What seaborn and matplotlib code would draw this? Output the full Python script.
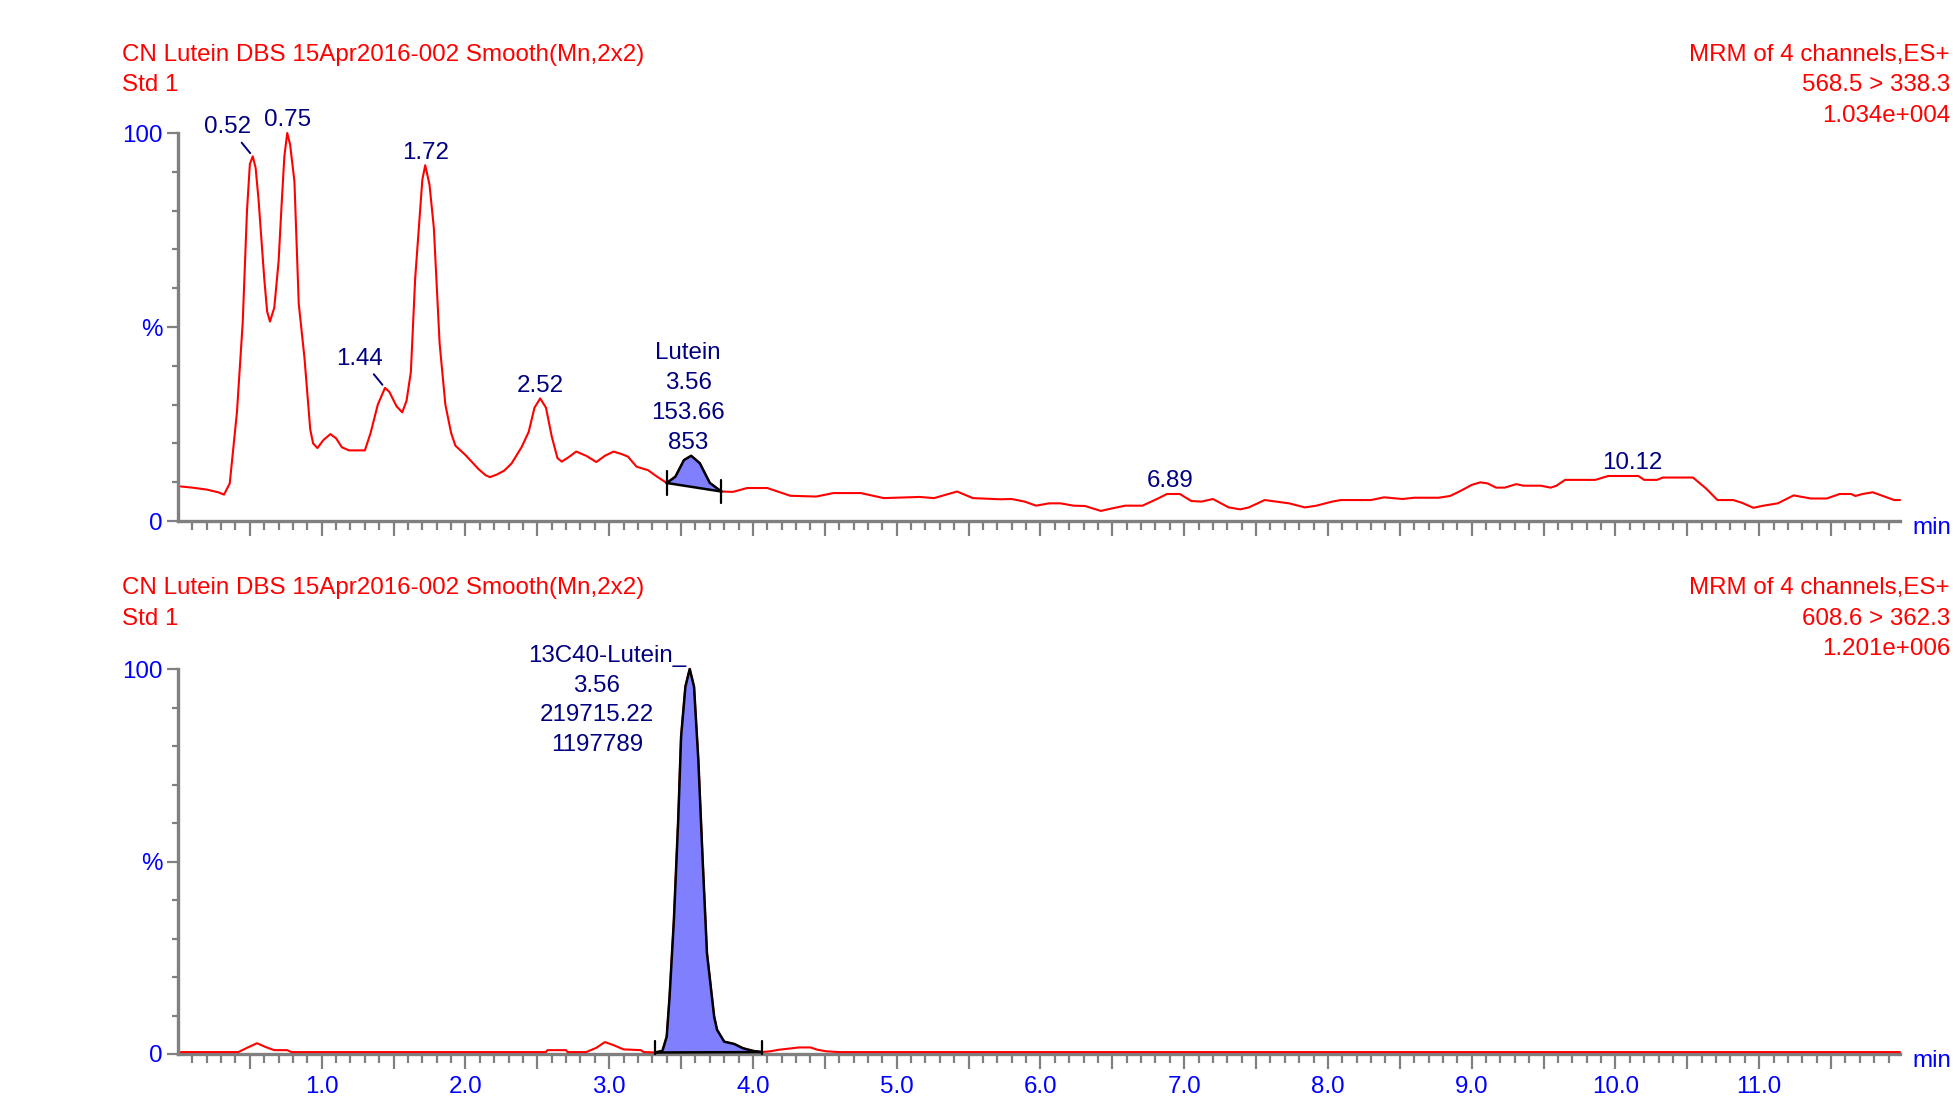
import numpy as np
import matplotlib
matplotlib.use("Agg")
import matplotlib.pyplot as plt
from matplotlib.ticker import FixedLocator, FixedFormatter
import seaborn as sns

# top channel 568.5 > 338.3 (time in min, intensity in %)
top_t = [0.02, 0.10, 0.20, 0.28, 0.32, 0.36, 0.41, 0.45, 0.48, 0.50, 0.52, 0.54, 0.56, 0.60, 0.62,
         0.64, 0.67, 0.70, 0.72, 0.74, 0.76, 0.78, 0.81, 0.84, 0.88, 0.92, 0.94, 0.97, 1.01,
         1.06, 1.10, 1.14, 1.19, 1.30, 1.34, 1.39, 1.44, 1.47, 1.52, 1.56, 1.59, 1.62, 1.65,
         1.70, 1.72, 1.75, 1.78, 1.82, 1.86, 1.90, 1.93, 2.00, 2.09, 2.14, 2.17, 2.22, 2.27,
         2.32, 2.39, 2.44, 2.48, 2.52, 2.56, 2.60, 2.64, 2.67, 2.72, 2.77, 2.84, 2.91, 2.97,
         3.03, 3.09, 3.13, 3.19, 3.27, 3.33, 3.40, 3.46, 3.52, 3.57, 3.63, 3.70, 3.78, 3.86,
         3.96, 4.10, 4.26, 4.44, 4.56, 4.75, 4.91, 5.16, 5.26, 5.42, 5.53, 5.72, 5.80, 5.89,
         5.97, 6.06, 6.14, 6.23, 6.31, 6.42, 6.50, 6.59, 6.71, 6.82, 6.88, 6.97, 7.05, 7.12,
         7.20, 7.31, 7.39, 7.45, 7.56, 7.64, 7.73, 7.84, 7.92, 8.03, 8.09, 8.30, 8.39, 8.52,
         8.60, 8.77, 8.85, 8.92, 9.00, 9.06, 9.11, 9.17, 9.23, 9.31, 9.36, 9.48, 9.55, 9.59,
         9.65, 9.86, 9.95, 10.16, 10.20, 10.29, 10.33, 10.54, 10.63, 10.71, 10.82, 10.88,
         10.96, 11.03, 11.13, 11.24, 11.30, 11.36, 11.47, 11.56, 11.64, 11.67, 11.72, 11.79,
         11.85, 11.94, 11.98]
top_y = [8.9, 8.6, 8.1, 7.4, 6.8, 9.7, 28, 51, 80, 92, 94, 91, 83, 62.5, 54,
         51.4, 55, 67, 81, 94, 100, 97, 87.5, 56, 42, 23.6, 20, 18.8, 20.8,
         22.4, 21.3, 19, 18.2, 18.2, 22.7, 30, 34.3, 33.3, 29.6, 28, 31, 38.4, 62.5,
         88, 91.7, 86.6, 75.5, 45.8, 30, 22.7, 19.4, 17, 13.4, 11.8, 11.3, 12, 13,
         14.8, 19, 23, 29.2, 31.6, 29.2, 21.8, 16.2, 15.3, 16.5, 17.9, 16.8, 15.2, 16.8,
         17.9, 17.2, 16.6, 14, 13.1, 11.5, 9.8, 11.4, 15.7, 16.8, 14.9, 9.8, 7.6, 7.5,
         8.5, 8.5, 6.5, 6.3, 7.2, 7.2, 5.9, 6.2, 5.9, 7.6, 5.9, 5.6, 5.67, 5.0,
         3.95, 4.55, 4.55, 3.95, 3.87, 2.6, 3.26, 3.95, 3.95, 5.84, 6.96, 6.96, 5.15, 5.0,
         5.67, 3.5, 3.0, 3.5, 5.4, 5.0, 4.55, 3.5, 3.95, 5.0, 5.4, 5.4, 6.1, 5.67,
         6.0, 6.0, 6.45, 7.7, 9.3, 9.96, 9.7, 8.6, 8.6, 9.5, 9.1, 9.1, 8.6, 9.1,
         10.6, 10.6, 11.6, 11.6, 10.6, 10.6, 11.2, 11.2, 8.4, 5.4, 5.4, 4.7,
         3.4, 3.95, 4.55, 6.6, 6.2, 5.8, 5.8, 6.96, 6.96, 6.45, 6.96, 7.4,
         6.6, 5.4, 5.4]

# bottom channel 608.6 > 362.3
bot_t = [0.02, 0.42, 0.48, 0.55, 0.61, 0.67, 0.76, 0.79, 2.56, 2.57, 2.70, 2.71, 2.84, 2.91,
         2.97, 3.03, 3.10, 3.22, 3.24, 3.32, 3.37, 3.40, 3.42, 3.45, 3.48, 3.50, 3.53, 3.56,
         3.59, 3.62, 3.65, 3.68, 3.73, 3.75, 3.80, 3.87, 3.93, 4.00, 4.06, 4.12, 4.18, 4.32,
         4.40, 4.45, 4.51, 4.60, 11.98]
bot_y = [0.5, 0.5, 1.6, 2.8, 1.8, 1.0, 1.0, 0.5, 0.5, 1.0, 1.0, 0.5, 0.5, 1.6,
         3.1, 2.3, 1.2, 1.0, 0.5, 0.4, 0.8, 4.5, 14.9, 34.8, 60.8, 82.4, 95.4, 100,
         95.4, 76.3, 50.4, 26.2, 9.7, 6.3, 3.2, 2.6, 1.5, 0.8, 0.5, 0.7, 1.1, 1.7,
         1.7, 1.1, 0.7, 0.5, 0.5]

# labelled peaks (apex time, apex height, label)
top_peak_t = [0.52, 0.76, 1.44, 1.72, 2.52, 6.90, 10.12]
top_peak_h = [94, 100, 34.3, 91.7, 31.6, 6.96, 11.6]
top_peak_lab = ["0.52", "0.75", "1.44", "1.72", "2.52", "6.89", "10.12"]

# integrated peaks
top_int = (3.40, 3.78)
top_int_apex = (3.57, 16.8)
top_int_lab = ["Lutein", "3.56", "153.66", "853"]
bot_int = (3.32, 4.06)
bot_int_apex = (3.56, 100)
bot_int_lab = ["13C40-Lutein_", "3.56", "219715.22", "1197789"]

title_left = ["CN Lutein DBS 15Apr2016-002 Smooth(Mn,2x2)", "Std 1"]
top_right = ["MRM of 4 channels,ES+", "568.5 > 338.3", "1.034e+004"]
bot_right = ["MRM of 4 channels,ES+", "608.6 > 362.3", "1.201e+006"]

W, H = 1953, 1107
PT = 0.72  # px -> pt at dpi 100
FS = 17.4
RED = "#ff0000"
BLUE = "#0000ff"
NAVY = "#000080"
GREY = "#808080"
FILL = "#8080ff"

sns.set_style("white")
plt.rcParams["font.family"] = ["Liberation Sans", "DejaVu Sans"]

fig = plt.figure(figsize=(W / 100, H / 100), dpi=100)
ax_top = fig.add_axes([178 / W, 1 - 521 / H, 1722 / W, 388 / H])
ax_bot = fig.add_axes([178 / W, 1 - 1054 / H, 1722 / W, 385 / H])


def style_axis(ax, xlabels):
    ax.set_xlim(0, 11.98)
    ax.set_ylim(0, 100)
    for s in ["top", "right"]:
        ax.spines[s].set_visible(False)
    for s in ["left", "bottom"]:
        ax.spines[s].set_color(GREY)
        ax.spines[s].set_linewidth(2.4)
    major = np.arange(0.5, 12.0, 0.5)
    ax.xaxis.set_major_locator(FixedLocator(major))
    ax.xaxis.set_minor_locator(FixedLocator(np.arange(0.1, 12.0, 0.1)))
    if xlabels:
        ax.xaxis.set_major_formatter(FixedFormatter(
            ["%.1f" % v if v % 1 == 0 else "" for v in major]))
    else:
        ax.xaxis.set_major_formatter(FixedFormatter([""] * len(major)))
    ax.yaxis.set_major_locator(FixedLocator([0, 50, 100]))
    ax.yaxis.set_major_formatter(FixedFormatter(["0", "%", "100"]))
    ax.yaxis.set_minor_locator(FixedLocator(np.arange(10, 100, 10)))
    ax.tick_params(axis="x", which="major", direction="out", length=15 * PT, width=1.6,
                   color=GREY, labelcolor=BLUE, labelsize=FS, pad=5, bottom=True)
    ax.tick_params(axis="x", which="minor", direction="out", length=9 * PT, width=1.6,
                   color=GREY, bottom=True)
    ax.tick_params(axis="y", which="major", direction="out", length=11 * PT, width=1.6,
                   color=GREY, labelcolor=BLUE, labelsize=FS, pad=3, left=True)
    ax.tick_params(axis="y", which="minor", direction="out", length=6.5 * PT, width=1.6,
                   color=GREY, left=True)
    ax.set_xlabel("")
    ax.set_ylabel("")
    ax.grid(False)
    ax.annotate("min", xy=(1, 0), xycoords="axes fraction", xytext=(12 * PT, -13 * PT),
                textcoords="offset points", ha="left", va="baseline", color=BLUE, fontsize=FS)


def draw_integration(ax, t, y, span, tick_lo, tick_hi):
    t = np.asarray(t)
    y = np.asarray(y)
    m = (t >= span[0]) & (t <= span[1])
    pt, py = t[m], y[m]
    base = np.interp(pt, [pt[0], pt[-1]], [py[0], py[-1]])
    ax.fill_between(pt, base, py, color=FILL, lw=0, zorder=3)
    ax.plot(pt, py, color="black", lw=1.8, zorder=4, clip_on=False)
    ax.plot([pt[0], pt[-1]], [py[0], py[-1]], color="black", lw=1.8, zorder=4)
    for xx, yy in [(pt[0], py[0]), (pt[-1], py[-1])]:
        ax.plot([xx, xx], [yy + tick_lo, yy + tick_hi], color="black", lw=1.6, zorder=4,
                clip_on=False)


# top panel
sns.lineplot(x=top_t, y=top_y, ax=ax_top, color=RED, lw=1.5, sort=False, estimator=None,
             zorder=3, clip_on=False)
style_axis(ax_top, False)
draw_integration(ax_top, top_t, top_y, top_int, -3.0, 3.0)

lead = {"0.52": True, "1.44": True}
for t, h, lab in zip(top_peak_t, top_peak_h, top_peak_lab):
    if lead.get(lab):
        ax_top.annotate(lab, xy=(t, h), xytext=(-25 * PT, 23 * PT), textcoords="offset points",
                        ha="center", va="baseline", color=NAVY, fontsize=FS,
                        arrowprops=dict(arrowstyle="-", color=NAVY, lw=1.4, relpos=(0.72, 0.0),
                                        shrinkA=1, shrinkB=4 * PT))
    else:
        ax_top.annotate(lab, xy=(t, h), xytext=(0, 6.5 * PT), textcoords="offset points",
                        ha="center", va="baseline", color=NAVY, fontsize=FS)

n = len(top_int_lab)
for k, lab in enumerate(top_int_lab):
    ax_top.annotate(lab, xy=top_int_apex, xytext=(-3 * PT, (6.5 + 30 * (n - 1 - k)) * PT),
                    textcoords="offset points", ha="center", va="baseline", color=NAVY,
                    fontsize=FS)

# bottom panel
sns.lineplot(x=bot_t, y=bot_y, ax=ax_bot, color=RED, lw=1.5, sort=False, estimator=None,
             zorder=3, clip_on=False)
style_axis(ax_bot, True)
draw_integration(ax_bot, bot_t, bot_y, bot_int, -0.4, 3.0)

bot_offsets = [(-83, 7.3), (-93, -22.7), (-93, -52.1), (-93, -82.1)]
for lab, (dx, dy) in zip(bot_int_lab, bot_offsets):
    ax_bot.annotate(lab, xy=bot_int_apex, xytext=(dx * PT, dy * PT), textcoords="offset points",
                    ha="center", va="baseline", color=NAVY, fontsize=FS)

# header texts
for base, right in [(0, top_right), (533.5, bot_right)]:
    for k, txt in enumerate(title_left):
        fig.text(121.5 / W, 1 - (60.7 + base + 30.5 * k) / H, txt, color=RED, fontsize=FS,
                 ha="left", va="baseline")
    for k, txt in enumerate(right):
        fig.text(1950 / W, 1 - (60.7 + base + 30.5 * k) / H, txt, color=RED, fontsize=FS,
                 ha="right", va="baseline")

fig.savefig("out.png", dpi=100, facecolor="white")
